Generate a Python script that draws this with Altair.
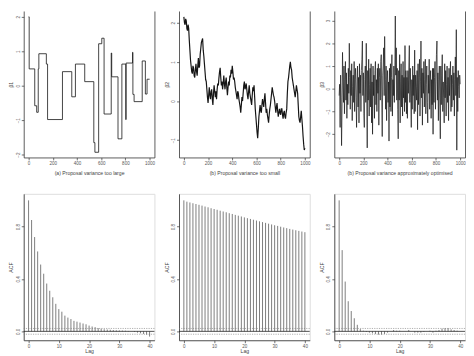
import altair as alt
import pandas as pd

FONT = "Liberation Sans"
W, H = 133, 149

# ---------------- data ----------------
# (a) trace: piecewise-constant chain (iteration where value changes, new value)
a_iter = [0, 5, 51, 67, 80, 85, 147, 157, 280, 357, 387, 464, 539, 548, 579, 605, 624,
          683, 687, 739, 771, 803, 806, 859, 862, 872, 939, 965, 979, 1000]
a_val = [2.0, 0.49, -0.58, -0.77, 0.49, 0.93, 0.63, -0.98, 0.41, -0.32, 0.63, 0.12, -1.65, -1.93,
         1.22, 1.38, -0.82, 0.95, 0.26, -1.54, 0.63, -0.98, 0.66, 0.97, -0.25, -0.46, 0.72, -0.24,
         0.19, 0.19]

# (b) trace: slowly drifting chain (every 5 iterations)
b_iter = list(range(0, 1001, 5))
b_val = [2.15, 2.0, 1.95, 2.1, 2.05, 1.85, 1.8, 1.95, 1.85, 1.55,
         1.3, 1.05, 0.9, 0.75, 0.7, 0.9, 0.85, 0.65, 0.6, 0.8,
         0.95, 0.75, 0.65, 0.9, 1.1, 0.85, 0.9, 1.2, 1.35, 1.5,
         1.55, 1.6, 1.3, 1.15, 0.95, 0.75, 0.55, 0.5, 0.3, 0.1,
         -0.05, 0.15, 0.35, 0.15, 0.05, 0.25, 0.3, 0.05, -0.1, 0.2,
         0.4, 0.25, 0.1, 0.25, 0.05, 0.3, 0.45, 0.4, 0.6, 0.75,
         0.85, 0.6, 0.4, 0.5, 0.3, 0.45, 0.65, 0.45, 0.3, 0.5,
         0.6, 0.35, 0.15, 0.35, 0.5, 0.4, 0.65, 0.6, 0.8, 0.7,
         0.9, 0.75, 0.55, 0.6, 0.5, 0.35, 0.25, 0.15, 0.05, 0.25,
         0.2, 0.05, -0.05, -0.15, -0.3, -0.1, 0.1, 0.0, 0.2, 0.4,
         0.5, 0.3, 0.35, 0.45, 0.3, 0.15, 0.05, 0.25, 0.4, 0.2,
         0.1, 0.0, -0.1, 0.15, 0.35, 0.25, 0.4, 0.1, -0.2, -0.4,
         -0.6, -0.8, -0.95, -0.7, -0.4, -0.25, -0.1, -0.25, -0.3, -0.1,
         0.05, -0.05, -0.15, 0.05, 0.2, -0.05, -0.3, -0.2, -0.35, -0.45,
         -0.55, -0.35, -0.2, -0.1, 0.05, 0.2, 0.35, 0.25, 0.15, 0.1,
         0.0, -0.15, -0.3, -0.15, -0.05, -0.25, -0.4, -0.3, -0.2, -0.3,
         -0.35, -0.2, -0.2, -0.35, -0.45, -0.3, -0.25, -0.4, -0.45, -0.3,
         -0.2, 0.2, 0.5, 0.6, 0.75, 0.9, 1.0, 0.85, 0.8, 0.6,
         0.5, 0.4, 0.3, 0.2, 0.1, 0.25, 0.4, 0.3, 0.2, -0.1,
         -0.4, -0.5, -0.55, -0.4, -0.25, -0.45, -0.65, -0.9, -1.1, -1.25,
         -1.2]

# (c) trace: well-mixing chain (every 4 iterations)
c_iter = list(range(0, 1001, 4))
c_val = [-0.3, 0.2, -1.7, 0.6, -0.4, -2.5, -0.8, 1.6, 0.3, -0.6,
         1.0, -1.1, 0.4, 1.2, -0.5, 0.7, -1.3, 0.2, -0.7, 0.9,
         -0.2, 2.0, 0.5, -0.9, 0.8, -0.3, 1.1, -1.4, 0.1, 0.6,
         -0.6, 1.2, -1.0, 0.4, 0.9, -0.4, -1.7, 0.3, 1.0, -0.8,
         0.5, -1.5, 1.1, -0.2, 0.6, -1.0, 0.8, 1.3, 2.1, -0.3,
         0.7, -1.1, -1.7, 0.4, 1.0, -0.6, 2.0, -0.4, -2.6, 0.8,
         -0.5, 1.3, -1.2, 0.2, 0.9, -0.8, 1.1, -1.5, 0.3, -2.0,
         1.0, -0.3, 0.6, -1.3, 0.8, 1.2, -0.7, 0.4, -1.0, 0.9,
         -0.2, 1.1, -1.6, 0.5, 0.9, -0.5, 1.2, 1.5, -0.4, -2.1,
         0.6, 1.0, 1.8, -0.3, 2.3, 0.4, -0.9, 1.0, -1.4, 0.2,
         0.8, -0.6, 0.3, -2.3, 0.9, -0.8, 1.1, -1.0, 0.5, 1.5,
         -1.2, 0.4, -0.3, 1.0, -0.6, 0.7, 3.2, 0.6, 1.8, -0.5,
         0.9, -0.9, -2.2, 0.8, -0.5, 1.5, -1.5, 0.3, 1.1, -0.8,
         0.6, -1.2, 1.2, -0.4, 0.5, -1.0, 1.9, -0.6, 0.8, -1.1,
         0.5, -1.3, 0.8, -0.2, 1.0, 1.9, -0.6, 0.9, -0.4, -1.7,
         0.4, -0.9, 1.0, -0.3, 0.6, -1.1, 1.7, -1.0, 0.6, 0.1,
         -0.5, 0.8, -1.8, 1.1, -0.7, 0.5, 1.3, -1.2, 0.3, 2.1,
         -0.4, 0.9, -1.6, 0.7, -0.2, 1.2, -0.8, 0.4, 1.3, -1.1,
         0.2, 1.0, -0.6, -1.5, 0.6, -0.2, 1.3, -0.9, 0.3, 0.8,
         -1.3, 0.4, -0.7, 0.9, -2.0, 0.9, -0.6, 0.5, 1.2, -0.9,
         0.3, 1.5, 2.1, -0.5, 0.7, -1.4, 0.4, 1.0, -0.8, -2.2,
         1.0, -0.7, 0.6, 1.5, -1.0, 0.3, -0.4, -1.5, 1.1, -0.4,
         0.8, -1.2, 0.2, 1.0, -0.6, 0.5, -1.4, 0.9, -0.3, 0.6,
         1.2, -1.0, 0.6, -0.8, 0.2, 1.0, -0.5, 0.7, -1.2, 0.4,
         1.4, -0.3, 2.6, -2.7, 0.5, -1.0, 0.8, 0.1, -0.4, 0.6,
         0.2]

# autocorrelations, lags 0..40
lags = list(range(41))
acf_a = [1.00, 0.85, 0.72, 0.61, 0.51, 0.44, 0.365, 0.31, 0.26, 0.21, 0.17, 0.15, 0.12, 0.105,
         0.094, 0.08, 0.074, 0.067, 0.06, 0.054, 0.044, 0.037, 0.032, 0.025, 0.02, 0.016, 0.014,
         0.012, 0.01, 0.008, 0.007, 0.006, 0.005, 0.003, 0.0, -0.005, -0.01, -0.015, -0.02,
         -0.025, -0.04]
acf_b = [1.000, 0.990, 0.984, 0.978, 0.972, 0.966, 0.960, 0.953, 0.947, 0.940, 0.934, 0.928,
         0.921, 0.915, 0.909, 0.902, 0.896, 0.889, 0.883, 0.877, 0.870, 0.864, 0.858, 0.852,
         0.846, 0.840, 0.834, 0.828, 0.822, 0.816, 0.810, 0.805, 0.799, 0.793, 0.788, 0.782,
         0.777, 0.772, 0.767, 0.762, 0.757]
acf_c = [1.0, 0.62, 0.38, 0.23, 0.155, 0.10, 0.05, 0.017, 0.005, -0.005, -0.01, -0.015, -0.02,
         -0.025, -0.025, -0.02, -0.01, 0.0, 0.01, 0.005, 0.005, 0.0, 0.0, 0.01, 0.0, -0.01,
         -0.01, -0.01, -0.005, 0.0, 0.005, -0.01, 0.005, 0.01, 0.02, 0.025, 0.025, 0.015, 0.01,
         0.005, 0.0]
ci_level = [0.022, -0.022]

trace_x_ticks = [0, 200, 400, 600, 800, 1000]
acf_x_ticks = [0, 10, 20, 30, 40]
acf_y_ticks = [0.0, 0.2, 0.4, 0.6, 0.8, 1.0]

subtitles = ["(a) Proposal variance too large", "(b) Proposal variance too small",
             "(b) Proposal variance approximately optimised"]
ylabels = ["\u03b21", "\u03b22", "\u03b23"]

# ---------------- styling helpers ----------------
INK = "#333333"
LAB = "#555555"


def x_axis(values, title, title_y, fmt):
    return alt.Axis(values=values, title=title, format=fmt, grid=False, domain=True,
                    domainColor=INK, domainWidth=0.8, ticks=True, tickSize=2.5, tickColor=INK,
                    tickWidth=0.7, labelFontSize=4.6, labelPadding=1, labelColor=LAB,
                    labelFont=FONT, labelFlush=False, labelOverlap=False, titleFont=FONT,
                    titleFontSize=5.2, titleFontWeight="normal", titleColor="#444444",
                    titleX=W / 2, titleY=title_y, titleAlign="center", titleBaseline="middle")


def y_axis(values, title, fmt):
    return alt.Axis(values=values, title=title, format=fmt, grid=False, domain=True,
                    domainColor=INK, domainWidth=0.8, ticks=True, tickSize=2.5, tickColor=INK,
                    tickWidth=0.7, labelFontSize=4.6, labelPadding=1, labelColor=LAB,
                    labelFont=FONT, labelAngle=270, labelAlign="center",
                    labelBaseline="bottom", labelFlush=False, labelOverlap=False,
                    titleFont=FONT, titleFontSize=5.2, titleFontWeight="normal",
                    titleColor="#444444", titleX=-13, titleY=H / 2, titleAngle=270,
                    titleAlign="center", titleBaseline="middle")


def trace_panel(iters, vals, ydom, yticks, ylab, sub, interp, sw):
    df = pd.DataFrame({"it": iters, "v": vals})
    xs = alt.Scale(domain=[-40, 1040], nice=False, zero=False)
    ys = alt.Scale(domain=ydom, nice=False, zero=False)
    xa = x_axis(trace_x_ticks, sub, 15, "d")
    line = alt.Chart(df).mark_line(interpolate=interp, color="#151515", strokeWidth=sw,
                                   clip=True).encode(
        x=alt.X("it:Q", scale=xs, axis=xa),
        y=alt.Y("v:Q", scale=ys, axis=y_axis(yticks, ylab, "d")),
    )
    frame = alt.Chart(df).mark_line(opacity=0).encode(
        x=alt.X("it:Q", scale=xs, axis=xa),
        y=alt.Y("v:Q", scale=ys, axis=alt.Axis(orient="right", labels=False, ticks=False,
                                               domain=True, domainColor=INK, domainWidth=0.8,
                                               grid=False, title=None)),
    )
    return alt.layer(line, frame).resolve_axis(y="independent").properties(
        width=W, height=H, view=alt.ViewBackground(strokeOpacity=0))


def acf_panel(acf):
    df = pd.DataFrame({"lag": lags, "acf": acf, "base": [0.0] * len(lags)})
    xs = alt.Scale(domain=[-1.6, 41.6], nice=False, zero=False)
    ys = alt.Scale(domain=[-0.068, 1.05], nice=False, zero=False)
    xa = x_axis(acf_x_ticks, "Lag", 10.5, "d")
    ya = y_axis(acf_y_ticks, "ACF", ".1f")
    bars = alt.Chart(df).mark_rule(color="#6e6e6e", strokeWidth=0.9).encode(
        x=alt.X("lag:Q", scale=xs, axis=xa),
        y=alt.Y("acf:Q", scale=ys, axis=ya),
        y2="base:Q",
    )
    zero = alt.Chart(pd.DataFrame({"z": [0.0]})).mark_rule(color="#222222", strokeWidth=0.8).encode(
        y=alt.Y("z:Q", scale=ys))
    ci = alt.Chart(pd.DataFrame({"c": ci_level})).mark_rule(
        color="#777777", strokeWidth=0.6, strokeDash=[1.2, 1.2]).encode(y=alt.Y("c:Q", scale=ys))
    return alt.layer(bars, zero, ci).properties(width=W, height=H)


p1 = trace_panel(a_iter, a_val, [-2.08, 2.17], [-2, -1, 0, 1, 2], ylabels[0], subtitles[0],
                 "step-after", 0.8)
p2 = trace_panel(b_iter, b_val, [-1.44, 2.30], [-1, 0, 1, 2], ylabels[1], subtitles[1],
                 "linear", 1.2)
p3 = trace_panel(c_iter, c_val, [-3.02, 3.42], [-2, -1, 0, 1, 2, 3], ylabels[2], subtitles[2],
                 "linear", 0.7)
q1 = acf_panel(acf_a)
q2 = acf_panel(acf_b)
q3 = acf_panel(acf_c)

chart = alt.concat(p1, p2, p3, q1, q2, q3, columns=3, spacing={"row": 37, "column": 25},
                   bounds="flush").properties(padding=0).configure_view(
    stroke=INK, strokeWidth=0.8).configure(background="white")

chart.save("out.html", embed_options={"renderer": "svg", "actions": False})
